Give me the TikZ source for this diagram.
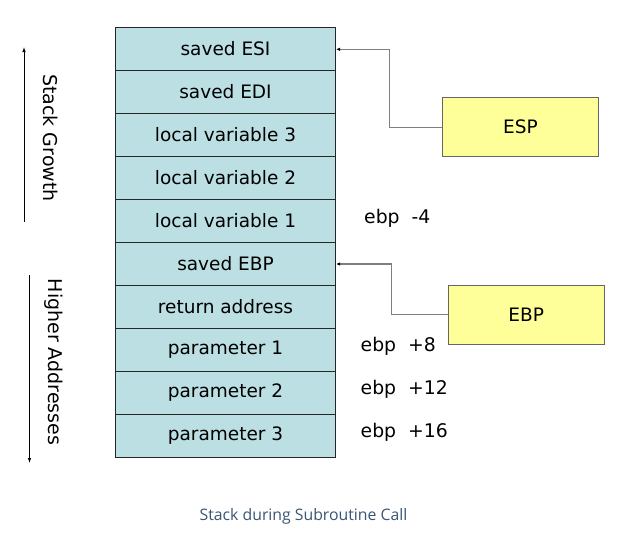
\documentclass[tikz,border=0pt]{standalone}
\usepackage{fontspec}
\setmainfont{DejaVu Sans}
\newfontfamily\capfont{Open Sans}
\usetikzlibrary{arrows.meta}
\definecolor{stackfill}{HTML}{BBDFE2}
\definecolor{regfill}{HTML}{FFFF99}
\definecolor{capcol}{HTML}{3A5674}
\definecolor{conncol}{HTML}{7F7F7F}
\tikzset{
  slot/.style={draw=black!85, line width=0.8pt, fill=stackfill, minimum width=220.4pt, minimum height=42.98pt, inner sep=0pt, font=\fontsize{18.5}{20}\selectfont},
  reg/.style={draw=black!60, line width=0.8pt, fill=regfill, inner sep=0pt, font=\fontsize{18.5}{20}\selectfont},
  off/.style={anchor=west, inner sep=0pt, font=\fontsize{18.8}{20}\selectfont},
  conn/.style={draw=conncol, line width=1.1pt, -{Latex[length=4pt,width=3.5pt,black]}},
  growarrow/.style={draw=black, line width=0.8pt},
  sidelabel/.style={rotate=-90, inner sep=0pt, font=\fontsize{19}{21}\selectfont}
}
\begin{document}
\begin{tikzpicture}[x=1pt,y=-1pt]
\useasboundingbox (0,0) rectangle (633,542);
\fill[white] (0,0) rectangle (633,542);
\foreach \i/\t in {1/saved ESI,2/saved EDI,3/local variable 3,4/local variable 2,5/local variable 1,6/saved EBP,7/return address,8/parameter 1,9/parameter 2,10/parameter 3}{
  \node[slot] (s\i) at (225.5, {27.5+42.98*(\i-0.5)}) {\t};
}
\node[reg, minimum width=155.6pt, minimum height=59pt] (esp) at (520.5,127.2) {ESP};
\node[reg, minimum width=155.7pt, minimum height=58.3pt] (ebp) at (526.2,314.9) {EBP};
\coordinate (espbend) at (389.3,127.2);
\coordinate (ebpbend) at (391.7,314.9);
\draw[conn] (esp.west) -- (espbend) |- (s1.east |- 0,49.3);
\draw[conn] (ebp.west) -- (ebpbend) |- (s6.east |- 0,264);
\node[off] (o1) at (364,218) {ebp\ \ -4};
\node[off] (o2) at (360.5,346) {ebp\ \ +8};
\node[off] (o3) at (360.5,389.5) {ebp\ \ +12};
\node[off] (o4) at (360.5,432.5) {ebp\ \ +16};
\coordinate (g0) at (24,221.7);
\coordinate (g1) at (24,47);
\draw[growarrow, -{Latex[length=5pt,width=3.5pt]}] (g0) -- (g1);
\node[sidelabel] (gl) at (51,138) {Stack Growth};
\coordinate (h0) at (29.5,275);
\coordinate (h1) at (29.5,463);
\draw[growarrow, -{Latex[length=5pt,width=3.5pt]}] (h0) -- (h1);
\node[sidelabel] (hl) at (53.5,362) {Higher Addresses};
\node[font=\capfont\fontsize{15.8}{18}\selectfont, text=capcol, inner sep=0pt] (cap) at (303.5,516.7) {Stack during Subroutine Call};
\end{tikzpicture}
\end{document}
